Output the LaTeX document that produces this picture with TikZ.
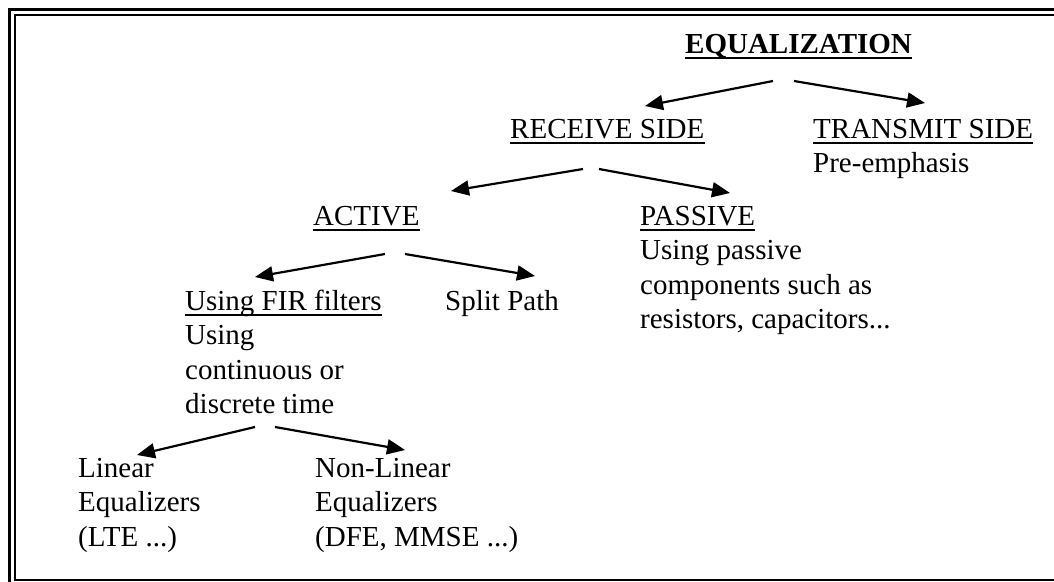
\documentclass[tikz,border=0pt]{standalone}
\usepackage{fontspec}
\setmainfont{Liberation Serif}
\usetikzlibrary{arrows.meta}
% stacked lines whose reference point is the baseline of the first line
\newcommand{\stacked}[1]{\begin{tabular}[t]{@{}l@{}}#1\end{tabular}}
\begin{document}
\begin{tikzpicture}[x=1pt,y=-1pt,
  txt/.style={anchor=base west, inner sep=0pt, font=\fontsize{29}{34.5}\selectfont},
  ulline/.style={line width=2pt},
  arr/.style={line width=2.2pt, -{Triangle[length=18pt,width=15pt]}},
  frameout/.style={line width=3pt},
  framein/.style={line width=2pt}]
\useasboundingbox (0,0) rectangle (1054,581);
\clip (0,0) rectangle (1054,581);

% double frame
\draw[frameout] (9.5,9.5) rectangle (1062,590);
\draw[framein] (15,15) rectangle (1054.5,579.5);

% headings
\node[txt, font=\fontsize{29}{34.5}\selectfont\bfseries] (eq) at (685,53) {EQUALIZATION};
\node[txt] (rx) at (510,138) {RECEIVE SIDE};
\node[txt] (tx) at (813,138) {TRANSMIT SIDE};
\node[txt] (txd) at (813,172.5) {Pre-emphasis};
\node[txt] (act) at (313,225) {ACTIVE};
\node[txt] (pas) at (640,225) {PASSIVE};
\node[txt] (pasd) at (640,259.5) {\stacked{Using passive\\components such as\\resistors, capacitors...}};
\node[txt] (fir) at (185,310) {Using FIR filters};
\node[txt] (firc) at (185,344.5) {\stacked{Using\\continuous or\\discrete time}};
\node[txt] (split) at (445,310) {Split Path};
\node[txt] (lin) at (78,477) {\stacked{Linear\\Equalizers\\(LTE ...)}};
\node[txt] (nlin) at (315,477) {\stacked{Non-Linear\\Equalizers\\(DFE, MMSE ...)}};

% underlines
\draw[line width=2.5pt] ([yshift=-5pt]eq.base west) -- ([yshift=-5pt]eq.base east);
\foreach \n in {rx,tx,act,pas,fir}
  \draw[ulline] ([yshift=-4.5pt]\n.base west) -- ([yshift=-4.5pt]\n.base east);

% connector end points
\coordinate (eqL) at (773,81);   \coordinate (eqR) at (794,81);
\coordinate (rxT) at (645,106);  \coordinate (txT) at (925,103);
\coordinate (rxL) at (583,169);  \coordinate (rxR) at (599,169);
\coordinate (actT) at (451,191); \coordinate (pasT) at (730,193);
\coordinate (actL) at (385,254); \coordinate (actR) at (405,254);
\coordinate (firT) at (255,277); \coordinate (splitT) at (535,276);
\coordinate (firL) at (255,427); \coordinate (firR) at (275,427);
\coordinate (linT) at (137,455); \coordinate (nlinT) at (405,450);

\draw[arr] (eqL) -- (rxT);
\draw[arr] (eqR) -- (txT);
\draw[arr] (rxL) -- (actT);
\draw[arr] (rxR) -- (pasT);
\draw[arr] (actL) -- (firT);
\draw[arr] (actR) -- (splitT);
\draw[arr] (firL) -- (linT);
\draw[arr] (firR) -- (nlinT);
\end{tikzpicture}
\end{document}
